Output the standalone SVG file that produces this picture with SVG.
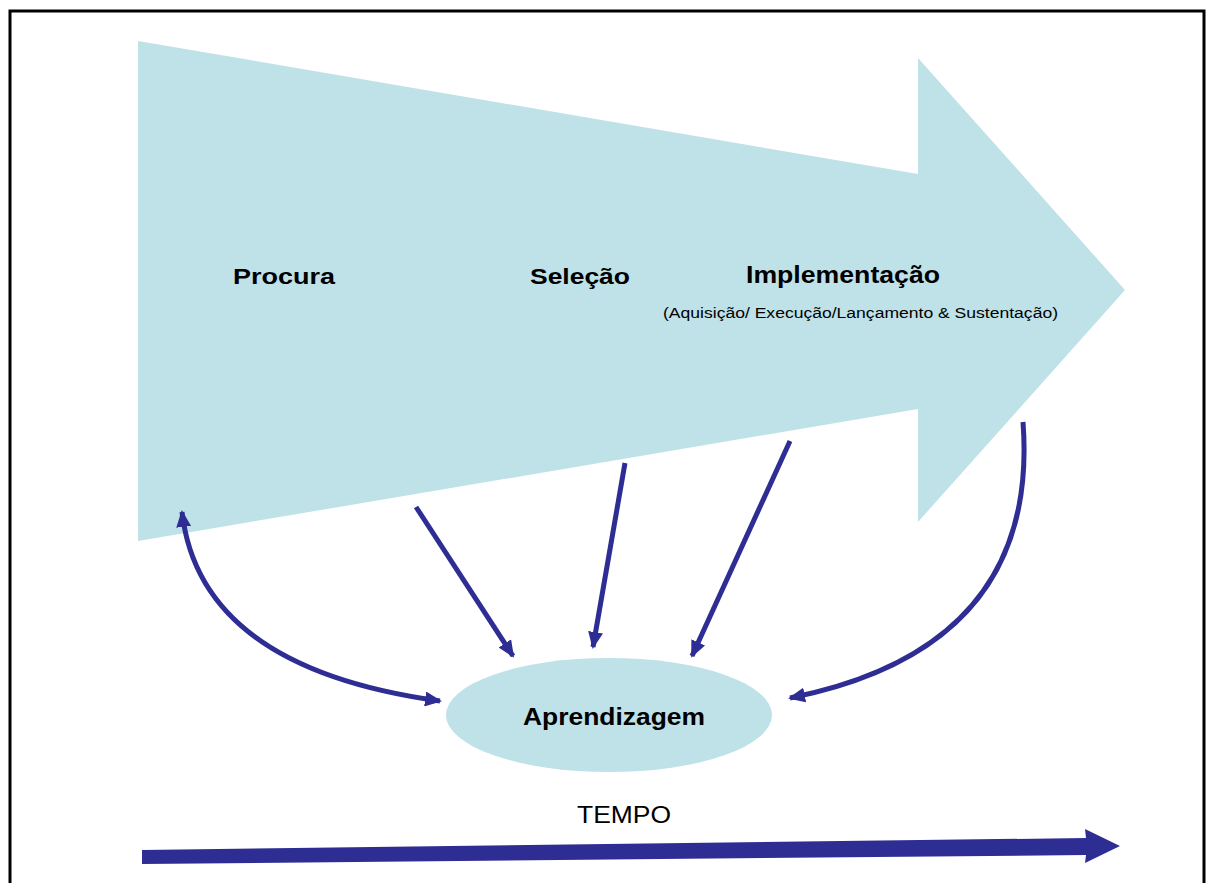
<svg xmlns="http://www.w3.org/2000/svg" width="1207" height="883" viewBox="0 0 1207 883">
<style>
.lbl{font-family:"Liberation Sans",Arial,sans-serif;fill:#000}
.b{font-weight:bold}
.conn{fill:none;stroke:#2E2D94;stroke-width:5}
</style>
<defs>
<marker id="ah" viewBox="0 0 17 15" markerWidth="17" markerHeight="15" refX="15" refY="7.5" orient="auto-start-reverse" markerUnits="userSpaceOnUse">
<path d="M0,0 L17,7.5 L0,15 z" fill="#2E2D94"/>
</marker>
</defs>
<rect x="0" y="0" width="1207" height="883" fill="#fff"/>
<rect x="10" y="11" width="1194" height="880" fill="none" stroke="#000" stroke-width="3"/>
<g id="process-arrow">
<polygon points="138,41 918,174 918,58 1125,290 918,522 918,409 138,541" fill="#BFE1E8"/>
<text class="lbl b" x="233" y="284" font-size="22" textLength="102" lengthAdjust="spacingAndGlyphs">Procura</text>
<text class="lbl b" x="530" y="284" font-size="22" textLength="100" lengthAdjust="spacingAndGlyphs">Seleção</text>
<text class="lbl b" x="746" y="283" font-size="23" textLength="194" lengthAdjust="spacingAndGlyphs">Implementação</text>
<text class="lbl" x="663" y="318" font-size="15.5" textLength="395" lengthAdjust="spacingAndGlyphs">(Aquisição/ Execução/Lançamento &amp; Sustentação)</text>
</g>
<g id="aprendizagem">
<ellipse cx="609" cy="715" rx="163" ry="57" fill="#BFE1E8"/>
<text class="lbl b" x="523" y="725" font-size="23" textLength="182" lengthAdjust="spacingAndGlyphs">Aprendizagem</text>
</g>
<g id="connectors">
<path class="conn" d="M182,512 Q200,668 440,701" marker-start="url(#ah)" marker-end="url(#ah)"/>
<line class="conn" x1="416" y1="507" x2="513" y2="656" marker-end="url(#ah)"/>
<line class="conn" x1="625" y1="463" x2="593" y2="647" marker-end="url(#ah)"/>
<line class="conn" x1="790" y1="441" x2="692" y2="656" marker-end="url(#ah)"/>
<path class="conn" d="M1023,422 Q1040,648 790,698" marker-end="url(#ah)"/>
</g>
<g id="tempo">
<text class="lbl" x="577" y="823" font-size="24" textLength="94" lengthAdjust="spacingAndGlyphs">TEMPO</text>
<polygon points="142,850 1086,838 1085,829 1120,846 1085,863 1086,855 142,864" fill="#2E2D94"/>
</g>
</svg>
